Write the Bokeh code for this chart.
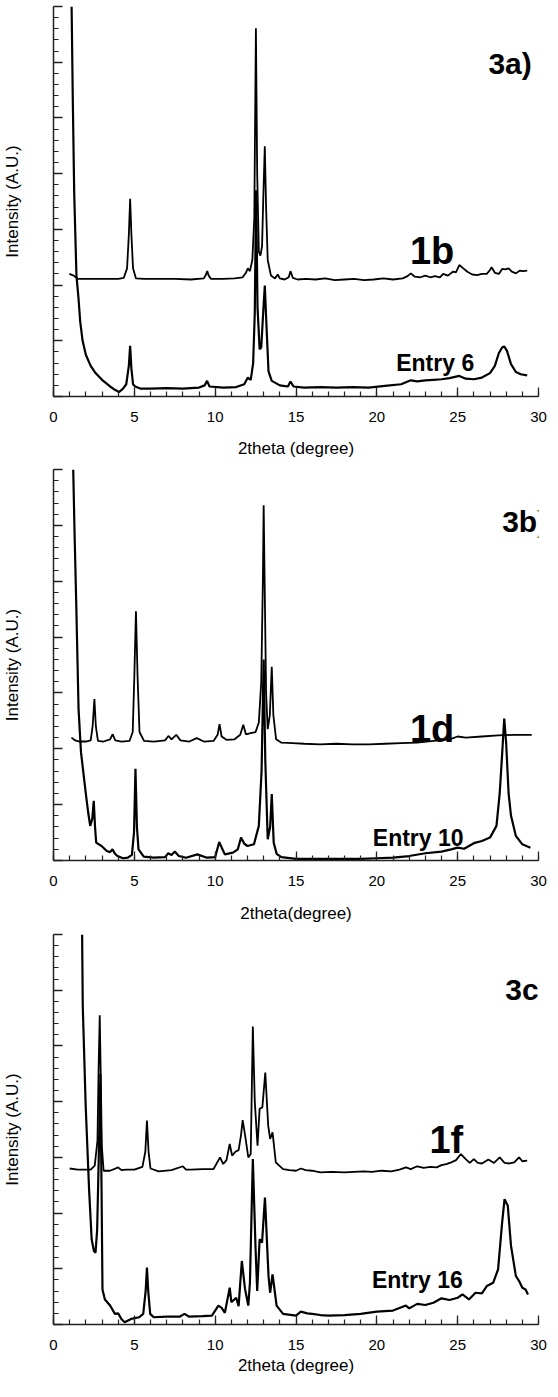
from bokeh.plotting import figure
from bokeh.models import Label, SingleIntervalTicker, Range1d, CustomLabelingPolicy
from bokeh.layouts import column
from bokeh.embed import file_html
from bokeh.resources import INLINE

FONT = "Liberation Sans"

# ---------------- Data (2theta in degree, intensity in arbitrary units) ----------------
# Panel 3a
x_1b = [0.98, 1.25, 1.5, 2.0, 3.0, 4.0, 4.35, 4.55, 4.66, 4.74, 4.82, 4.92, 5.1, 5.6, 6.5, 7.5, 8.5,
        9.3, 9.42, 9.51, 9.6, 9.75, 10.5, 11.2, 11.7, 11.9, 12.02, 12.15, 12.3, 12.42, 12.52, 12.6,
        12.7, 12.8, 12.9, 12.98, 13.07, 13.15, 13.25, 13.45, 13.7, 13.87, 14.0, 14.3, 14.55, 14.66,
        14.8, 15.1, 15.6, 16.2, 16.8, 17.4, 18.0, 18.6, 19.2, 19.8, 20.4, 21.0, 21.6, 21.9, 22.1,
        22.35, 22.7, 23.0, 23.3, 23.6, 23.9, 24.1, 24.4, 24.7, 24.9, 25.1, 25.35, 25.6, 25.9, 26.2,
        26.5, 26.8, 27.0, 27.1, 27.3, 27.55, 27.75, 27.95, 28.15, 28.35, 28.6, 28.85, 29.05, 29.3]
y_1b = [2.20, 2.17, 2.11, 2.11, 2.11, 2.11, 2.13, 2.3, 2.9, 3.55, 2.9, 2.3, 2.12, 2.11, 2.11, 2.11, 2.1,
        2.12, 2.18, 2.25, 2.17, 2.11, 2.11, 2.12, 2.14, 2.22, 2.30, 2.25, 2.45, 3.2, 6.61, 4.0,
        2.6, 2.53, 2.7, 3.6, 4.49, 3.4, 2.45, 2.17, 2.12, 2.19, 2.12, 2.1, 2.14, 2.25,
        2.13, 2.1, 2.11, 2.1, 2.12, 2.09, 2.1, 2.11, 2.09, 2.1, 2.12, 2.1, 2.12, 2.16, 2.21,
        2.15, 2.14, 2.17, 2.14, 2.16, 2.14, 2.2, 2.17, 2.24, 2.23, 2.36, 2.3, 2.24, 2.19, 2.18,
        2.2, 2.2, 2.27, 2.32, 2.22, 2.2, 2.29, 2.28, 2.3, 2.24, 2.21, 2.26, 2.25, 2.26]

x_e6 = [1.12, 1.2, 1.28, 1.42, 1.55, 1.65, 1.8, 2.0, 2.3, 2.6, 3.0, 3.5, 3.8, 4.05, 4.3, 4.5, 4.66,
        4.74, 4.82, 4.92, 5.05, 5.4, 6.0, 7.0, 8.0, 9.0, 9.35, 9.5, 9.65, 10.5, 11.3, 11.8, 12.02,
        12.2, 12.35, 12.45, 12.53, 12.62, 12.75, 12.85, 12.95, 13.07, 13.17, 13.3, 13.5, 14.0, 14.5,
        14.66, 14.85, 15.5, 16.5, 17.5, 18.5, 19.5, 20.5, 21.5, 22.1, 22.5, 23.0, 23.5, 24.0, 24.5,
        25.1, 25.5, 26.0, 26.5, 27.0, 27.3, 27.55, 27.75, 27.88, 28.05, 28.3, 28.6, 28.9, 29.3]
y_e6 = [7.0, 5.2, 3.66, 2.17, 1.75, 1.35, 1.0, 0.75, 0.55, 0.42, 0.3, 0.18, 0.12, 0.08, 0.14, 0.22, 0.55,
        0.91, 0.5, 0.22, 0.18, 0.14, 0.14, 0.15, 0.14, 0.16, 0.2, 0.28, 0.18, 0.16, 0.17, 0.22, 0.34,
        0.3, 0.6, 1.5, 3.7, 1.6, 0.85, 0.88, 1.4, 1.99, 1.3, 0.45, 0.28, 0.2, 0.18,
        0.27, 0.18, 0.16, 0.17, 0.16, 0.17, 0.16, 0.19, 0.22, 0.29, 0.27, 0.29, 0.3, 0.31, 0.33,
        0.37, 0.32, 0.31, 0.34, 0.42, 0.55, 0.78, 0.88, 0.9, 0.82, 0.58, 0.44, 0.4, 0.38]

# Panel 3b
x_1d = [1.11, 1.35, 1.6, 2.0, 2.3, 2.42, 2.53, 2.62, 2.75, 3.1, 3.5, 3.66, 3.82, 4.2, 4.7, 4.9, 5.0,
        5.1, 5.2, 5.32, 5.6, 6.2, 6.9, 7.11, 7.3, 7.59, 7.85, 8.4, 8.86, 9.3, 9.9, 10.15, 10.27, 10.4,
        10.7, 11.2, 11.55, 11.74, 11.9, 12.2, 12.5, 12.7, 12.85, 12.95, 13.0, 13.06, 13.15, 13.25,
        13.38, 13.5, 13.6, 13.77, 14.1, 14.8, 15.5, 16.5, 17.5, 18.5, 19.5, 20.5, 21.5, 22.5, 23.5,
        24.5, 25.0, 25.5, 26.5, 27.5, 28.5, 29.58]
y_1d = [2.2, 2.15, 2.13, 2.13, 2.15, 2.4, 2.89, 2.4, 2.14, 2.13, 2.17, 2.26, 2.15, 2.13, 2.14, 2.3, 3.3,
        4.46, 3.3, 2.3, 2.14, 2.13, 2.15, 2.23, 2.17, 2.25, 2.15, 2.13, 2.19, 2.13, 2.14, 2.25, 2.44, 2.22,
        2.16, 2.17, 2.25, 2.43, 2.26, 2.28, 2.3, 2.47, 3.19, 5.0, 6.36, 5.0, 3.0, 2.35,
        2.6, 3.47, 2.6, 2.17, 2.11, 2.1, 2.09, 2.08, 2.09, 2.08, 2.08, 2.09, 2.1, 2.11, 2.14,
        2.17, 2.22, 2.2, 2.22, 2.24, 2.25, 2.25]

x_e10 = [1.22, 1.3, 1.4, 1.55, 1.7, 1.99, 2.15, 2.27, 2.4, 2.49, 2.57, 2.64, 2.97, 3.3, 3.5, 3.65, 3.8,
         3.95, 4.3, 4.6, 4.85, 4.98, 5.07, 5.16, 5.26, 5.58, 6.2, 6.9, 7.1, 7.3, 7.5, 7.75, 8.2, 8.9,
         9.5, 10.0, 10.25, 10.45, 10.6, 11.1, 11.4, 11.6, 11.8, 12.0, 12.4, 12.7, 12.87, 13.0, 13.1,
         13.25, 13.4, 13.5, 13.62, 13.8, 14.1, 15.0, 16.0, 17.0, 18.0, 19.0, 20.0, 21.0, 22.0, 23.0,
         24.0, 24.6, 25.0, 25.4, 26.0, 26.5, 27.0, 27.4, 27.6, 27.75, 27.88, 28.0, 28.15, 28.3, 28.6,
         29.0, 29.5]
y_e10 = [7.0, 5.9, 4.68, 2.71, 1.94, 1.22, 0.85, 0.62, 0.75, 1.07, 0.6, 0.32, 0.26, 0.17, 0.15, 0.2, 0.12,
         0.08, 0.04, 0.05, 0.1, 0.5, 1.64, 0.6, 0.2, 0.07, 0.05, 0.06, 0.13, 0.1, 0.16, 0.08, 0.05, 0.11,
         0.05, 0.06, 0.33, 0.2, 0.11, 0.14, 0.2, 0.41, 0.3, 0.26, 0.29, 0.62, 1.6, 3.6, 1.8,
         0.38, 0.6, 1.19, 0.32, 0.12, 0.06, 0.03, 0.03, 0.03, 0.03, 0.03, 0.04, 0.05, 0.08, 0.13,
         0.16, 0.2, 0.23, 0.21, 0.31, 0.35, 0.41, 0.62, 1.2, 1.9, 2.54, 2.1, 1.2, 0.8, 0.44,
         0.29, 0.23]

# Panel 3c
x_1f = [1.0, 1.5, 1.88, 2.3, 2.55, 2.72, 2.79, 2.86, 2.92, 2.99, 3.1, 3.5, 4.0, 4.2, 4.5, 5.0, 5.5,
        5.68, 5.78, 5.88, 6.0, 6.5, 7.3, 8.0, 8.2, 8.5, 9.2, 9.9, 10.3, 10.5, 10.7, 10.9, 11.05, 11.25,
        11.45, 11.6, 11.7, 11.85, 12.05, 12.2, 12.33, 12.45, 12.62, 12.75, 12.92, 13.1, 13.28, 13.4,
        13.55, 13.75, 14.2, 14.6, 15.0, 15.3, 15.6, 16.0, 16.5, 17.2, 18.0, 18.6, 19.2, 19.7, 20.3,
        20.9, 21.4, 21.8, 22.1, 22.5, 22.9, 23.3, 23.7, 24.0, 24.3, 24.6, 24.9, 25.2, 25.5, 25.75,
        26.0, 26.25, 26.5, 26.9, 27.25, 27.6, 27.9, 28.2, 28.5, 28.8, 29.0, 29.3]
y_1f = [2.8, 2.78, 2.78, 2.78, 2.85, 3.3, 4.6, 5.55, 4.5, 3.2, 2.76, 2.76, 2.82, 2.77, 2.78, 2.78, 2.83,
        3.1, 3.66, 3.1, 2.8, 2.75, 2.77, 2.84, 2.78, 2.78, 2.79, 2.79, 3.0, 2.88, 2.95, 3.24, 3.03, 3.1,
        3.13, 3.4, 3.67, 3.4, 3.0, 3.06, 5.35, 4.0, 3.21, 3.87, 3.9, 4.52, 3.57, 3.33,
        3.45, 2.91, 2.79, 2.77, 2.76, 2.8, 2.77, 2.76, 2.73, 2.74, 2.73, 2.74, 2.75, 2.74, 2.76,
        2.75, 2.78, 2.82, 2.79, 2.84, 2.81, 2.83, 2.82, 2.86, 2.88, 2.91, 2.95, 3.06, 2.97, 2.9,
        2.97, 2.9, 2.89, 2.96, 2.9, 3.0, 2.9, 2.89, 2.91, 3.0, 2.93, 2.94]

x_e16 = [1.77, 1.81, 1.99, 2.2, 2.36, 2.5, 2.6, 2.7, 2.8, 2.9, 2.97, 3.03, 3.18, 3.5, 3.8, 4.0, 4.2,
         4.4, 4.8, 5.3, 5.55, 5.7, 5.78, 5.86, 5.98, 6.2, 7.0, 7.8, 8.1, 8.4, 9.2, 9.8, 10.2, 10.4,
         10.6, 10.9, 11.0, 11.3, 11.45, 11.65, 11.85, 12.05, 12.15, 12.33, 12.5, 12.6, 12.75, 12.9,
         13.08, 13.3, 13.4, 13.55, 13.8, 14.2, 15.0, 15.3, 15.7, 16.0, 16.5, 17.0, 18.0, 19.0, 20.0,
         21.0, 21.8, 22.0, 22.5, 23.0, 23.5, 24.0, 24.5, 25.0, 25.3, 25.7, 26.1, 26.5, 26.8, 27.2,
         27.5, 27.75, 27.9, 28.1, 28.3, 28.6, 28.8, 29.0, 29.2, 29.35]
y_e16 = [7.0, 5.72, 3.93, 2.43, 1.53, 1.32, 1.29, 1.7, 3.0, 4.5, 2.5, 0.63, 0.45, 0.34, 0.19, 0.2, 0.1,
         0.04, 0.1, 0.13, 0.19, 0.6, 1.02, 0.6, 0.19, 0.13, 0.14, 0.14, 0.19, 0.14, 0.15, 0.16, 0.34, 0.3,
         0.21, 0.66, 0.4, 0.48, 0.33, 1.14, 0.63, 0.34, 0.75, 2.97, 1.35, 0.6, 1.53, 1.47,
         2.28, 0.87, 0.57, 0.9, 0.34, 0.19, 0.16, 0.23, 0.2, 0.19, 0.17, 0.16, 0.17, 0.19, 0.23,
         0.25, 0.34, 0.29, 0.37, 0.35, 0.39, 0.47, 0.44, 0.48, 0.54, 0.45, 0.57, 0.56, 0.69, 0.75,
         0.99, 1.83, 2.25, 2.13, 1.41, 0.87, 0.78, 0.66, 0.63, 0.54]

x_titles = ["2theta (degree)", "2theta(degree)", "2theta (degree)"]
y_title = "Intensity (A.U.)"
panel_tags = ["3a)", "3b)", "3c)"]
sample_names = ["1b", "1d", "1f"]
entry_names = ["Entry 6", "Entry 10", "Entry 16"]

# label anchors (data coordinates: x, baseline y)
tag_pos = [(26.9, 5.98), (27.75, 6.07), (27.95, 6.01)]
sample_pos = [(22.05, 2.62), (22.05, 2.35), (23.25, 3.32)]
entry_pos = [(21.2, 0.61), (19.75, 0.41), (19.7, 0.79)]

NO_LABELS = CustomLabelingPolicy(code="""
    for (const i of indices) { indices.unset(i) }
    return indices
""")


def make_panel(i, height, top, bottom, title_standoff, xu, yu, xl, yl):
    p = figure(width=550, height=height, x_range=Range1d(0, 30), y_range=Range1d(0, 7),
               output_backend="svg", toolbar_location=None,
               min_border_left=47, min_border_right=12,
               min_border_top=top, min_border_bottom=bottom)
    p.xgrid.visible = False
    p.ygrid.visible = False
    p.outline_line_color = None

    xa = p.xaxis[0]
    xa.ticker = SingleIntervalTicker(interval=5, num_minor_ticks=5)
    xa.major_tick_in = 9
    xa.major_tick_out = 0
    xa.minor_tick_in = 5
    xa.minor_tick_out = 0
    xa.axis_line_width = 1.5
    xa.axis_line_color = "#222222"
    xa.major_tick_line_color = "#222222"
    xa.minor_tick_line_color = "#222222"
    xa.major_tick_line_width = 1.3
    xa.minor_tick_line_width = 1.2
    xa.major_label_text_font = FONT
    xa.major_label_text_font_size = "15px"
    xa.major_label_text_color = "black"
    xa.major_label_standoff = 15
    xa.axis_label = x_titles[i]
    xa.axis_label_text_font = FONT
    xa.axis_label_text_font_size = "17px"
    xa.axis_label_text_font_style = "normal"
    xa.axis_label_text_color = "black"
    xa.axis_label_standoff = title_standoff

    ya = p.yaxis[0]
    ya.ticker = SingleIntervalTicker(interval=1, num_minor_ticks=5)
    ya.major_tick_in = 9
    ya.major_tick_out = 0
    ya.minor_tick_in = 5
    ya.minor_tick_out = 0
    ya.axis_line_width = 1.5
    ya.axis_line_color = "#222222"
    ya.major_tick_line_color = "#222222"
    ya.minor_tick_line_color = "#222222"
    ya.major_tick_line_width = 1.3
    ya.minor_tick_line_width = 1.2
    ya.major_label_policy = NO_LABELS
    ya.major_label_standoff = 0
    ya.axis_label = y_title
    ya.axis_label_text_font = FONT
    ya.axis_label_text_font_size = "17px"
    ya.axis_label_text_font_style = "normal"
    ya.axis_label_text_color = "black"
    ya.axis_label_standoff = 22

    p.line(xu, yu, line_color="black", line_width=1.8)
    p.line(xl, yl, line_color="black", line_width=2.2)

    p.add_layout(Label(x=tag_pos[i][0], y=tag_pos[i][1], text=panel_tags[i], text_font=FONT,
                       text_font_size="30px", text_font_style="bold", text_color="black",
                       text_align="left", text_baseline="alphabetic"))
    p.add_layout(Label(x=sample_pos[i][0], y=sample_pos[i][1], text=sample_names[i], text_font=FONT,
                       text_font_size="38px", text_font_style="bold", text_color="black",
                       text_align="left", text_baseline="alphabetic"))
    p.add_layout(Label(x=entry_pos[i][0], y=entry_pos[i][1], text=entry_names[i], text_font=FONT,
                       text_font_size="23px", text_font_style="bold", text_color="black",
                       text_align="left", text_baseline="alphabetic"))
    return p


p1 = make_panel(0, 462, 6, 66, 14, x_1b, y_1b, x_e6, y_e6)
p2 = make_panel(1, 464, 7, 66, 15, x_1d, y_1d, x_e10, y_e10)
p3 = make_panel(2, 455, 8, 57, 3, x_1f, y_1f, x_e16, y_e16)

layout = column(p1, p2, p3, spacing=0)
open("out.html", "w").write(file_html(layout, INLINE))
